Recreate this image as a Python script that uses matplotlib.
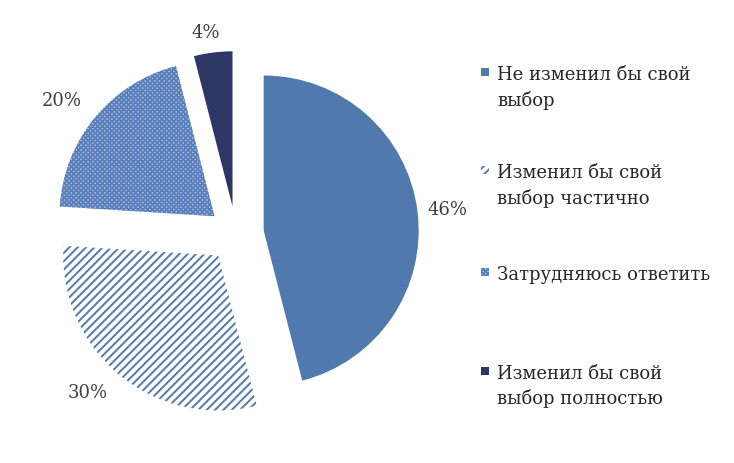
import matplotlib
matplotlib.use("Agg")
import matplotlib.pyplot as plt
from matplotlib.patches import Rectangle

labels = ["Не изменил бы свой\nвыбор", "Изменил бы свой\nвыбор частично",
          "Затрудняюсь ответить", "Изменил бы свой\nвыбор полностью"]
values = [46, 30, 20, 4]
pct_labels = ["46%", "30%", "20%", "4%"]

blue = "#5079AE"
plt.rcParams['hatch.linewidth'] = 1.4
fig = plt.figure(figsize=(7.34, 4.64), dpi=100)
W, H = 734, 464
cx, cy, R = 236, 235, 155
half = 1.4 * R
ax = fig.add_axes([(cx - half) / W, (H - cy - half) / H, 2 * half / W, 2 * half / H])

faces = [blue, "white", "#B9CAE6", "#2D3765"]
hatches = [None, "////", "xxxxxxx", None]
edges = [blue, blue, "#5A80BC", "#2D3765"]
explode = [0.18, 0.18, 0.18, 0.18]

wedges, _ = ax.pie(values, startangle=90, counterclock=False, explode=explode,
                   radius=1.0, colors=faces)
for w, h, e, f in zip(wedges, hatches, edges, faces):
    w.set_linewidth(0)
    if h:
        w.set_hatch(h)
        w.set_edgecolor(e)
ax.set_xlim(-1.4, 1.4)
ax.set_ylim(-1.4, 1.4)
ax.set_aspect("equal")
ax.axis("off")

font = "DejaVu Serif"
fs = 13
# percentage labels (pixel positions of label centers)
pos = [(447, 210), (88, 393), (62, 101), (206, 33)]
for (px, py), t in zip(pos, pct_labels):
    fig.text(px / W, 1 - py / H, t, ha="center", va="center", fontsize=fs,
             family=font, color="#404040")

# legend drawn entry by entry, marker aligned with first line
first_line_y = [73, 171, 273, 372]
line_gap = 25
for lab, f, h, e, y in zip(labels, faces, hatches, edges, first_line_y):
    r = Rectangle(((481) / W, 1 - (y + 4) / H), 8 / W, 8 / H, transform=fig.transFigure,
                  facecolor=f, edgecolor=e if h else f, hatch=h, linewidth=0)
    fig.patches.append(r)
    for i, line in enumerate(lab.split("\n")):
        fig.text(497 / W, 1 - (y + i * line_gap) / H, line, ha="left", va="center_baseline",
                 fontsize=fs, family=font, color="#262626")

fig.savefig("out.png", dpi=100)
